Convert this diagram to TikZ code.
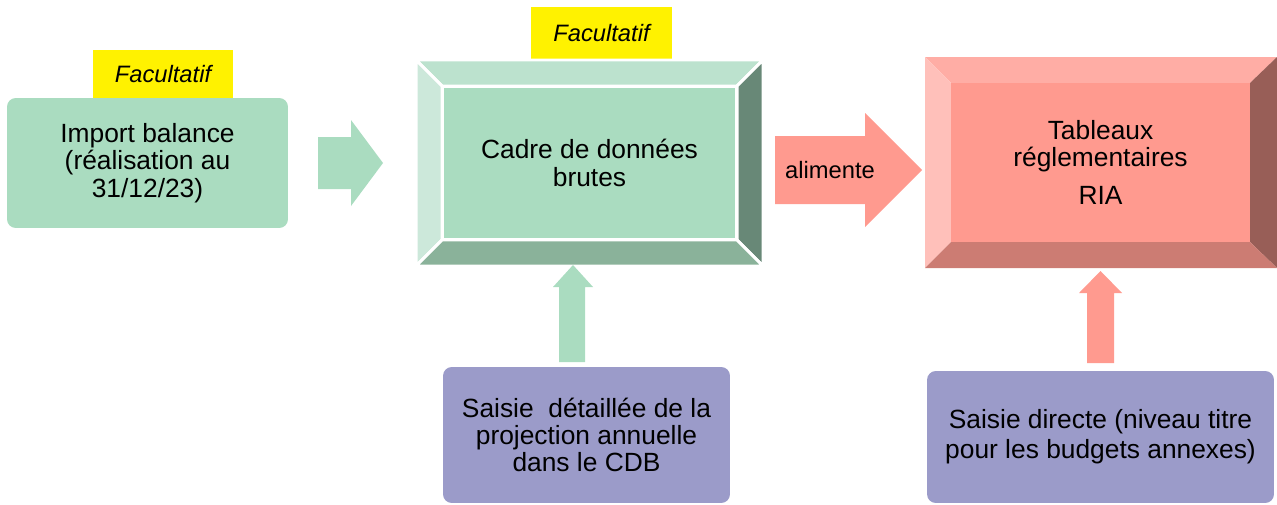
\documentclass[tikz,border=0pt]{standalone}
\usepackage{fontspec}
\setmainfont{Liberation Sans}
\definecolor{mint}{HTML}{AADCC0}
\definecolor{minttop}{HTML}{BCE2CE}
\definecolor{mintleft}{HTML}{CCE8DA}
\definecolor{mintright}{HTML}{688877}
\definecolor{mintbottom}{HTML}{8AB29A}
\definecolor{salmon}{HTML}{FF9A8F}
\definecolor{salmontop}{HTML}{FFADA5}
\definecolor{salmonleft}{HTML}{FFC0BA}
\definecolor{salmonright}{HTML}{985E57}
\definecolor{salmonbottom}{HTML}{CC7C73}
\definecolor{lavender}{HTML}{9B9BC9}
\begin{document}
\begin{tikzpicture}[x=0.02cm,y=-0.02cm]
    \tikzstyle{box}=[rounded corners=5pt,inner sep=0pt,align=center,font=\fontsize{15}{15.6}\selectfont]
    \tikzstyle{face}=[inner sep=0pt,align=center,font=\fontsize{15}{15.6}\selectfont]
    \tikzstyle{tag}=[fill=yellow,inner sep=0pt,font=\fontsize{13.5}{15}\selectfont\itshape]
    \tikzstyle{bevel}=[draw=white,line width=1.7pt,line join=miter]
    \useasboundingbox (0,0) rectangle (1277,504);
    % left box
    \node (fac1)[tag,minimum width=2.8cm,minimum height=0.98cm] at (163,74.5) {Facultatif};
    \node (import)[box,fill=mint,minimum width=5.62cm,minimum height=2.6cm] at (147.5,163) {Import balance\\(réalisation au\\31/12/23)};
    \fill [mint] (318,137) -- (351,137) -- (351,120) -- (383,163) -- (351,206) -- (351,189) -- (318,189) -- cycle;
    % raw data frame
    \node (fac2)[tag,minimum width=2.82cm,minimum height=1.06cm] at (601.5,33.5) {Facultatif};
    \fill [bevel,fill=minttop] (416,60) -- (763,60) -- (737,86) -- (442,86) -- cycle;
    \fill [bevel,fill=mintleft] (416,60) -- (442,86) -- (442,240) -- (416,266) -- cycle;
    \fill [bevel,fill=mintright] (763,60) -- (763,266) -- (737,240) -- (737,86) -- cycle;
    \fill [bevel,fill=mintbottom] (416,266) -- (763,266) -- (737,240) -- (442,240) -- cycle;
    \node (cadre)[face,fill=mint,draw=white,line width=1.7pt,minimum width=5.9cm,minimum height=3.08cm] at (589.5,163) {Cadre de données\\brutes};
    \fill [salmon] (775,136) -- (865,136) -- (865,113) -- (922,170) -- (865,227) -- (865,204) -- (775,204) -- cycle;
    \node (alim)[font=\fontsize{13.5}{15}\selectfont,inner sep=0pt] at (830,170) {alimente};
    % regulatory tables
    \fill [salmontop] (925,57) -- (1277,57) -- (1250,83) -- (951,83) -- cycle;
    \fill [salmonleft] (925,57) -- (951,83) -- (951,242) -- (925,268) -- cycle;
    \fill [salmonright] (1277,57) -- (1277,268) -- (1250,242) -- (1250,83) -- cycle;
    \fill [salmonbottom] (925,268) -- (1277,268) -- (1250,242) -- (951,242) -- cycle;
    \node (ria)[face,fill=salmon,minimum width=5.98cm,minimum height=3.18cm] at (1100.5,162.5) {Tableaux\\réglementaires\\[6pt]RIA};
    % inputs below
    \fill [mint] (559,362) -- (559,287) -- (553,287) -- (573,265) -- (593,287) -- (585,287) -- (585,362) -- cycle;
    \node (detail)[box,fill=lavender,minimum width=5.74cm,minimum height=2.72cm] at (586.5,435) {Saisie\ \ détaillée de la\\projection annuelle\\dans le CDB};
    \fill [salmon] (1087,363) -- (1087,293) -- (1079,293) -- (1100.5,271) -- (1122,293) -- (1114,293) -- (1114,363) -- cycle;
    \node (direct)[box,fill=lavender,minimum width=6.94cm,minimum height=2.64cm,font=\fontsize{15}{17}\selectfont] at (1100.5,437) {Saisie directe (niveau titre\\pour les budgets annexes)};
\end{tikzpicture}
\end{document}
